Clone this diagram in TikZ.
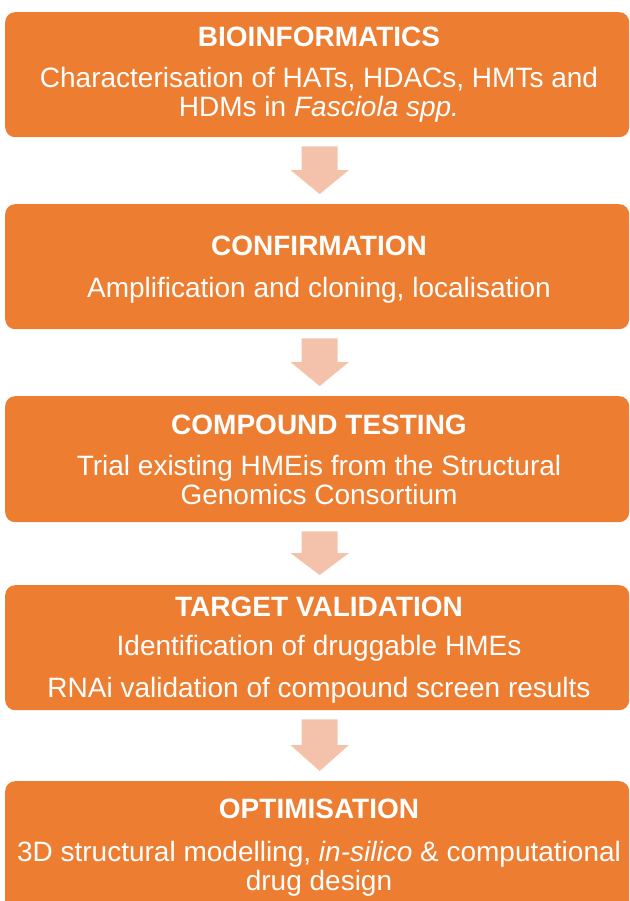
\documentclass[tikz,border=0pt]{standalone}
\usepackage{fontspec}
\setmainfont{Liberation Sans}
\usetikzlibrary{calc}
\definecolor{stageorange}{HTML}{ED7D31}
\definecolor{arrowpeach}{HTML}{F4C1AA}

% block arrow between two stage boxes (shaft 36pt wide, head 58pt wide)
\newcommand\stagearrow[2]{%
  \fill[arrowpeach] let \p1=($(#1.south)+(2.5,9)$), \p2=($(#2.north)+(2.5,-10)$),
    \n1={0.5*(\y1+\y2)} in
    (\x1-18pt,\y1) -- (\x1+18pt,\y1) -- (\x1+18pt,\n1) -- (\x1+29pt,\n1)
    -- (\x1,\y2) -- (\x1-29pt,\n1) -- (\x1-18pt,\n1) -- cycle;}

\begin{document}
\begin{tikzpicture}[x=1pt,y=-1pt,
  stagebox/.style={fill=stageorange, draw=none, rounded corners=10pt,
    anchor=north west, minimum width=624pt, inner sep=0pt},
  stagetitle/.style={text=white, anchor=base, inner sep=0pt,
    font=\fontsize{28}{34}\selectfont\bfseries},
  stageline/.style={text=white, anchor=base, inner sep=0pt,
    font=\fontsize{28}{34}\selectfont}]
\useasboundingbox (0,0) rectangle (629,901);
\clip (0,0) rectangle (629,901);

% stage boxes
\node[stagebox, minimum height=125pt] (b1) at (5,12) {};
\node[stagebox, minimum height=125pt] (b2) at (5,204) {};
\node[stagebox, minimum height=126pt] (b3) at (5,396) {};
\node[stagebox, minimum height=125pt] (b4) at (5,585) {};
\node[stagebox, minimum height=150pt] (b5) at (5,781) {};

% arrows between stages
\stagearrow{b1}{b2}
\stagearrow{b2}{b3}
\stagearrow{b3}{b4}
\stagearrow{b4}{b5}

% texts
\node[stagetitle] (t1) at (319,47) {BIOINFORMATICS};
\node[stageline] (t1a) at (319,88) {Characterisation of HATs, HDACs, HMTs and};
\node[stageline] (t1b) at (319,117) {HDMs in \textit{Fasciola spp.}};

\node[stagetitle] (t2) at (319,255) {CONFIRMATION};
\node[stageline] (t2a) at (319,297) {Amplification and cloning, localisation};

\node[stagetitle] (t3) at (319,434) {COMPOUND TESTING};
\node[stageline] (t3a) at (319,475) {Trial existing HMEis from the Structural};
\node[stageline] (t3b) at (319,504) {Genomics Consortium};

\node[stagetitle] (t4) at (319,616) {TARGET VALIDATION};
\node[stageline] (t4a) at (319,655) {Identification of druggable HMEs};
\node[stageline] (t4b) at (319,697) {RNAi validation of compound screen results};

\node[stagetitle] (t5) at (319,818) {OPTIMISATION};
\node[stageline] (t5a) at (319,861) {3D structural modelling, \textit{in-silico} \& computational};
\node[stageline] (t5b) at (319,890) {drug design};
\end{tikzpicture}
\end{document}
